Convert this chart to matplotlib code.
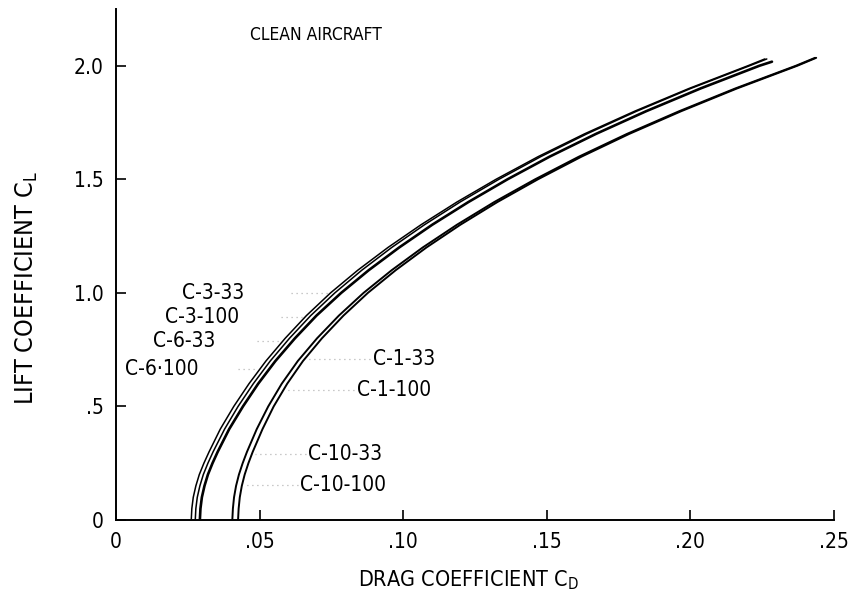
import matplotlib
matplotlib.use('Agg')
import matplotlib.pyplot as plt
from matplotlib import font_manager
import numpy as np

cond = [f for f in font_manager.fontManager.ttflist
        if f.name == 'DejaVu Sans' and str(f.stretch) in ('condensed', '500') or 'Condensed' in f.fname]
plt.rcParams['font.family'] = ['DejaVu Sans']
STRETCH = 'condensed' if cond else 'normal'
plt.rcParams['font.stretch'] = STRETCH
plt.rcParams['mathtext.fontset'] = 'custom'
plt.rcParams['mathtext.rm'] = 'DejaVu Sans'

# ---- data ----
CL = [0.0, 0.05, 0.1, 0.15, 0.2, 0.25, 0.3, 0.4, 0.5, 0.6, 0.7, 0.8, 0.9, 1.0,
      1.1, 1.2, 1.3, 1.4, 1.5, 1.6, 1.7, 1.8, 1.9, 2.0]

cl_end_L12 = 2.03
cl_end_L3 = 2.018
cl_end_R = 2.035

cd_L1 = [0.0262, 0.0264, 0.0269, 0.0278, 0.0290, 0.0306, 0.0324, 0.0363, 0.0410, 0.0463,
         0.0522, 0.0589, 0.0663, 0.0747, 0.0842, 0.0947, 0.1062, 0.1187, 0.1323, 0.1470,
         0.1631, 0.1806, 0.1995, 0.2200, 0.2259]
cd_L2 = [0.0276, 0.0278, 0.0283, 0.0292, 0.0304, 0.0320, 0.0338, 0.0378, 0.0425, 0.0478,
         0.0537, 0.0604, 0.0678, 0.0762, 0.0856, 0.0960, 0.1074, 0.1198, 0.1333, 0.1479,
         0.1639, 0.1813, 0.2001, 0.2206, 0.2266]
cd_L3 = [0.0292, 0.0294, 0.0299, 0.0308, 0.0320, 0.0336, 0.0354, 0.0394, 0.0442, 0.0495,
         0.0555, 0.0623, 0.0698, 0.0784, 0.0880, 0.0986, 0.1101, 0.1227, 0.1363, 0.1510,
         0.1671, 0.1846, 0.2035, 0.2240, 0.2284]
cd_R1 = [0.0405, 0.0407, 0.0411, 0.0418, 0.0428, 0.0441, 0.0456, 0.0490, 0.0530, 0.0577,
         0.0633, 0.0700, 0.0776, 0.0862, 0.0960, 0.1068, 0.1187, 0.1317, 0.1459, 0.1612,
         0.1779, 0.1961, 0.2156, 0.2367, 0.2434]
cd_R2 = [0.0425, 0.0427, 0.0431, 0.0438, 0.0448, 0.0461, 0.0476, 0.0510, 0.0549, 0.0596,
         0.0651, 0.0717, 0.0792, 0.0877, 0.0974, 0.1081, 0.1199, 0.1328, 0.1469, 0.1621,
         0.1787, 0.1968, 0.2162, 0.2372, 0.2438]

labels = ['C-3-33', 'C-3-100', 'C-6-33', 'C-6\u00b7100',
          'C-1-33', 'C-1-100', 'C-10-33', 'C-10-100']
label_x = [0.0230, 0.0171, 0.0129, 0.0031, 0.0895, 0.0839, 0.0669, 0.0641]
label_cl = [1.000, 0.894, 0.789, 0.665, 0.709, 0.573, 0.291, 0.154]
leader_from = [0.0490, 0.0455, 0.0370, 0.0305, 0.0885, 0.0830, 0.0660, 0.0632]
leader_to_curve = ['L1', 'L1', 'L1', 'L1', 'R2', 'R2', 'R2', 'R2']

x_ticks = [0, 0.05, 0.10, 0.15, 0.20, 0.25]
x_tick_labels = ['0', '.05', '.10', '.15', '.20', '.25']
y_ticks = [0, 0.5, 1.0, 1.5, 2.0]
y_tick_labels = ['0', '.5', '1.0', '1.5', '2.0']

# ---- figure ----
fig = plt.figure(figsize=(8.53, 6.02), dpi=100)
ax = fig.add_axes([116 / 853, 82 / 602, 718 / 853, 511 / 602])
ax.set_xlim(0, 0.25)
ax.set_ylim(0, 2.25)

curves = {
    'L1': (cd_L1, cl_end_L12, 1.1),
    'L2': (cd_L2, cl_end_L12, 1.1),
    'L3': (cd_L3, cl_end_L3, 1.9),
    'R1': (cd_R1, cl_end_R, 1.4),
    'R2': (cd_R2, cl_end_R, 1.4),
}
for key, (cd, cl_end, lw) in curves.items():
    ax.plot(cd, CL + [cl_end], color='black', lw=lw, solid_capstyle='round')

# labels with faint leader lines
for txt, lx, lc, lf, tgt in zip(labels, label_x, label_cl, leader_from, leader_to_curve):
    ax.text(lx, lc, txt, fontsize=15, va='center', ha='left', color='black')
    cd_t = curves[tgt][0]
    xt = np.interp(lc, CL + [curves[tgt][1]], cd_t)
    if lf < xt:
        ax.plot([lf + 0.012 if lx < 0.03 else lf, xt - 0.001], [lc, lc], color='0.72', lw=0.9,
                ls=(0, (1, 3)))
    else:
        ax.plot([lf, xt + 0.001], [lc, lc], color='0.72', lw=0.9, ls=(0, (1, 3)))

for sp in ['top', 'right']:
    ax.spines[sp].set_visible(False)
for sp in ['left', 'bottom']:
    ax.spines[sp].set_linewidth(1.4)

ax.set_xticks(x_ticks)
ax.set_xticklabels(x_tick_labels)
ax.set_yticks(y_ticks)
ax.set_yticklabels(y_tick_labels)
ax.tick_params(direction='in', length=7, width=1.2, labelsize=15, pad=9)

ax.text(0.0696, 2.137, 'CLEAN AIRCRAFT', fontsize=12.5, va='center', ha='center')

fig.text(468 / 853, 1 - 580 / 602, r'DRAG COEFFICIENT C$_{\mathrm{D}}$',
         fontsize=15.5, ha='center', va='center')
fig.text(27 / 853, 1 - 288 / 602, r'LIFT COEFFICIENT C$_{\mathrm{L}}$',
         fontsize=18, ha='center', va='center', rotation=90)

fig.savefig('out.png', dpi=100, facecolor='white')
